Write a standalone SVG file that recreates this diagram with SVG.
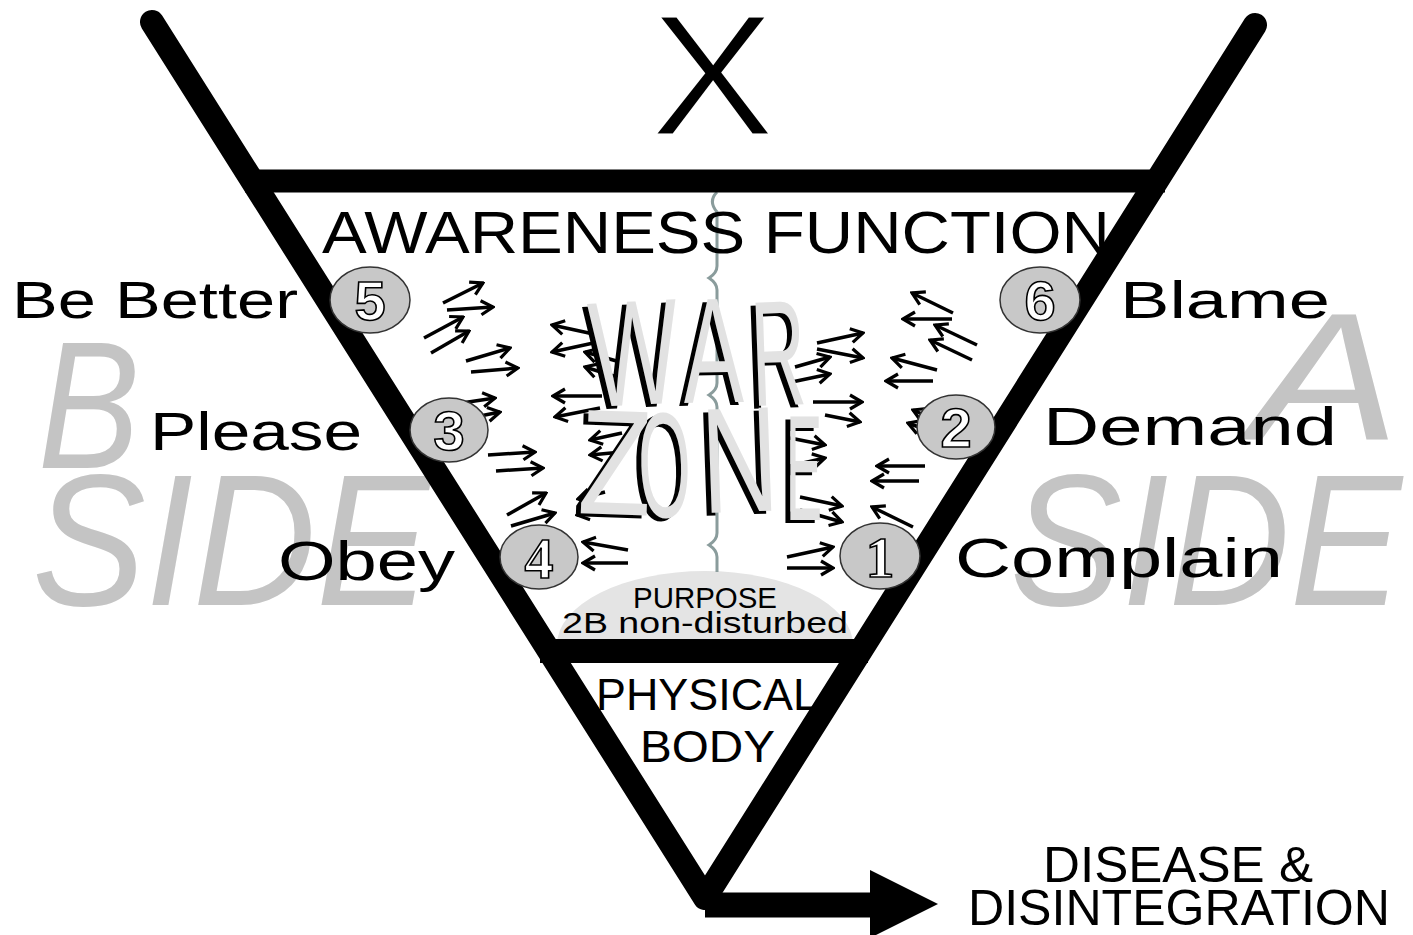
<svg xmlns="http://www.w3.org/2000/svg" xmlns:xlink="http://www.w3.org/1999/xlink" width="1413" height="935" viewBox="0 0 1413 935">
<style>
  .t{font-family:"Liberation Sans",Arial,sans-serif;fill:#000}
  .side{font-family:"Liberation Sans",Arial,sans-serif;font-style:italic;fill:#c4c4c4}
  .num{font-family:"Liberation Sans",Arial,sans-serif;font-weight:bold;fill:#fff;stroke:#000;stroke-width:1.6}
  .nums{font-family:"Liberation Serif","Times New Roman",serif;font-weight:bold;fill:#fff;stroke:#000;stroke-width:1.6}
  .circ{fill:#c8c8c8;stroke:#333;stroke-width:1.5}
  .arr line{stroke:#000;stroke-width:3.5;marker-end:url(#ah)}
  .wz{font-family:"Liberation Sans",Arial,sans-serif;font-size:150px}
</style>
<defs>
  <marker id="ah" viewBox="0 0 16 18" refX="14" refY="9" markerWidth="16" markerHeight="18" markerUnits="userSpaceOnUse" orient="auto">
    <path d="M2,2 L14,9 L2,16" fill="none" stroke="#000" stroke-width="3.2"/>
  </marker>
  <g id="wzl" class="wz">
    <text transform="translate(592,407) rotate(-3) scale(0.63,1)">W</text>
    <text transform="translate(684,403) rotate(-1) scale(0.6,1)">A</text>
    <text transform="translate(753,406) rotate(-2) scale(0.5,1)">R</text>
    <text transform="translate(577,513) rotate(2) scale(0.8,1)">Z</text>
    <text transform="translate(640,518) rotate(-2) scale(0.45,1)">O</text>
    <text transform="translate(703,513) rotate(-2) scale(0.71,1)">N</text>
    <text transform="translate(786,520) rotate(0) scale(0.36,1)">E</text>
  </g>
</defs>
<rect width="1413" height="935" fill="#fff"/>

<g id="side-labels">
  <text class="side" x="38" y="468" font-size="182" textLength="102" lengthAdjust="spacingAndGlyphs">B</text>
  <text class="side" x="32" y="605" font-size="188" textLength="398" lengthAdjust="spacingAndGlyphs">SIDE</text>
  <text class="side" x="1250" y="440" font-size="182" textLength="150" lengthAdjust="spacingAndGlyphs">A</text>
  <text class="side" x="1010" y="605" font-size="188" textLength="392" lengthAdjust="spacingAndGlyphs">SIDE</text>
</g>

<g id="purpose">
  <path d="M557,645 A148,74 0 0 1 853,645 Z" fill="#e4e4e4"/>
  <text class="t" x="633" y="608" font-size="29" textLength="144" lengthAdjust="spacingAndGlyphs">PURPOSE</text>
  <text class="t" x="562" y="633" font-size="29" textLength="286" lengthAdjust="spacingAndGlyphs">2B non-disturbed</text>
</g>

<g id="divider">
  <path d="M717,192 C711,198 711,205 717,212 L717,266 C717,273 712,276 709,278 C712,280 717,283 717,290 L717,383 C717,390 712,393 709,395 C712,397 717,400 717,407 L717,533 C717,540 712,543 709,545 C712,547 717,550 717,557 L717,572" fill="none" stroke="#8a9c9c" stroke-width="3"/>
</g>

<g id="connectors" class="arr">
  <line x1="443" y1="303" x2="483" y2="283"/>
  <line x1="447" y1="310" x2="493" y2="307"/>
  <line x1="424" y1="338" x2="463" y2="317"/>
  <line x1="431" y1="353" x2="469" y2="331"/>
  <line x1="466" y1="361" x2="510" y2="348"/>
  <line x1="471" y1="372" x2="518" y2="368"/>
  <line x1="455" y1="404" x2="495" y2="398"/>
  <line x1="460" y1="420" x2="500" y2="412"/>
  <line x1="488" y1="455" x2="535" y2="452"/>
  <line x1="496" y1="471" x2="543" y2="468"/>
  <line x1="507" y1="515" x2="546" y2="493"/>
  <line x1="511" y1="526" x2="555" y2="513"/>

  <line x1="598" y1="335" x2="552" y2="325"/>
  <line x1="598" y1="342" x2="552" y2="352"/>
  <line x1="620" y1="362" x2="585" y2="352"/>
  <line x1="620" y1="378" x2="585" y2="367"/>
  <line x1="602" y1="396" x2="553" y2="396"/>
  <line x1="600" y1="408" x2="555" y2="417"/>
  <line x1="622" y1="433" x2="590" y2="440"/>
  <line x1="622" y1="452" x2="590" y2="455"/>
  <line x1="605" y1="492" x2="578" y2="499"/>
  <line x1="605" y1="510" x2="577" y2="515"/>
  <line x1="628" y1="550" x2="583" y2="542"/>
  <line x1="628" y1="563" x2="583" y2="563"/>

  <line x1="817" y1="343" x2="863" y2="333"/>
  <line x1="817" y1="349" x2="863" y2="358"/>
  <line x1="795" y1="367" x2="830" y2="357"/>
  <line x1="787" y1="383" x2="830" y2="374"/>
  <line x1="813" y1="402" x2="862" y2="402"/>
  <line x1="825" y1="415" x2="860" y2="422"/>
  <line x1="790" y1="438" x2="825" y2="445"/>
  <line x1="790" y1="466" x2="825" y2="458"/>
  <line x1="800" y1="497" x2="842" y2="506"/>
  <line x1="800" y1="510" x2="842" y2="522"/>
  <line x1="787" y1="557" x2="833" y2="547"/>
  <line x1="787" y1="568" x2="833" y2="568"/>

  <line x1="953" y1="313" x2="912" y2="293"/>
  <line x1="952" y1="319" x2="903" y2="319"/>
  <line x1="977" y1="345" x2="935" y2="325"/>
  <line x1="972" y1="360" x2="930" y2="340"/>
  <line x1="937" y1="370" x2="892" y2="358"/>
  <line x1="933" y1="381" x2="886" y2="381"/>
  <line x1="940" y1="422" x2="913" y2="410"/>
  <line x1="940" y1="435" x2="908" y2="423"/>
  <line x1="925" y1="466" x2="877" y2="466"/>
  <line x1="919" y1="481" x2="872" y2="481"/>
  <line x1="913" y1="527" x2="872" y2="507"/>
</g>

<g id="warzone">
  <use xlink:href="#wzl" href="#wzl" fill="#000" transform="translate(-5,3)"/>
  <use xlink:href="#wzl" href="#wzl" fill="#e2e2e2"/>
</g>

<g id="funnel">
  <path d="M152,22 L705,898 L1255,25" fill="none" stroke="#000" stroke-width="24" stroke-linecap="round" stroke-linejoin="round"/>
  <line x1="245" y1="181" x2="1165" y2="181" stroke="#000" stroke-width="23"/>
  <line x1="540" y1="651" x2="868" y2="651" stroke="#000" stroke-width="24"/>
  <line x1="705" y1="905" x2="872" y2="905" stroke="#000" stroke-width="25"/>
  <polygon points="870,870 938,904 870,938" fill="#000"/>
</g>

<g id="x-mark">
  <text class="t" x="650" y="135" font-size="172" textLength="125" lengthAdjust="spacingAndGlyphs" stroke="#fff" stroke-width="3">X</text>
</g>

<g id="awareness">
  <text class="t" x="322" y="253" font-size="60" textLength="788" lengthAdjust="spacingAndGlyphs">AWARENESS FUNCTION</text>
</g>

<g id="physical">
  <text class="t" x="596" y="710" font-size="45" textLength="222" lengthAdjust="spacingAndGlyphs">PHYSICAL</text>
  <text class="t" x="640" y="762" font-size="45" textLength="135" lengthAdjust="spacingAndGlyphs">BODY</text>
</g>

<g id="disease">
  <text class="t" x="1043" y="882" font-size="50" textLength="270" lengthAdjust="spacingAndGlyphs">DISEASE &amp;</text>
  <text class="t" x="968" y="925" font-size="50" textLength="422" lengthAdjust="spacingAndGlyphs">DISINTEGRATION</text>
</g>

<g id="n5">
  <ellipse class="circ" cx="370" cy="300" rx="40" ry="33"/>
  <text class="num" x="370" y="320" font-size="56" text-anchor="middle">5</text>
  <text class="t" x="12" y="318" font-size="52" textLength="286" lengthAdjust="spacingAndGlyphs">Be Better</text>
</g>
<g id="n3">
  <ellipse class="circ" cx="449" cy="430" rx="39" ry="32"/>
  <text class="num" x="449" y="450" font-size="56" text-anchor="middle">3</text>
  <text class="t" x="150" y="450" font-size="54" textLength="212" lengthAdjust="spacingAndGlyphs">Please</text>
</g>
<g id="n4">
  <ellipse class="circ" cx="539" cy="557" rx="39" ry="32"/>
  <text class="nums" x="539" y="578" font-size="58" text-anchor="middle">4</text>
  <text class="t" x="278" y="580" font-size="56" textLength="177" lengthAdjust="spacingAndGlyphs">Obey</text>
</g>
<g id="n6">
  <ellipse class="circ" cx="1040" cy="300" rx="40" ry="33"/>
  <text class="num" x="1040" y="320" font-size="56" text-anchor="middle">6</text>
  <text class="t" x="1120" y="318" font-size="52" textLength="210" lengthAdjust="spacingAndGlyphs">Blame</text>
</g>
<g id="n2">
  <ellipse class="circ" cx="956" cy="427" rx="39" ry="32"/>
  <text class="num" x="956" y="447" font-size="56" text-anchor="middle">2</text>
  <text class="t" x="1043" y="445" font-size="54" textLength="294" lengthAdjust="spacingAndGlyphs">Demand</text>
</g>
<g id="n1">
  <ellipse class="circ" cx="880" cy="556" rx="40" ry="33"/>
  <text class="nums" x="880" y="577" font-size="58" text-anchor="middle">1</text>
  <text class="t" x="955" y="577" font-size="56" textLength="328" lengthAdjust="spacingAndGlyphs">Complain</text>
</g>
</svg>
